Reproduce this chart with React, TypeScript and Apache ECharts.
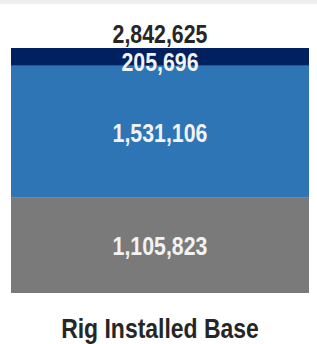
import React, { useEffect, useRef } from "react";
import * as echarts from "echarts";

const categories = ["Rig Installed Base"];
const seriesNames = ["Base", "Middle", "Top"];
const baseValues = [1105823];
const middleValues = [1531106];
const topValues = [205696];
const totalValues = [2842625];

const FONT = "'Liberation Sans', Arial, sans-serif";
const NARROW = 0.82;

export default function App() {
  const ref = useRef<HTMLDivElement>(null);
  useEffect(() => {
    document.body.style.margin = "0";
    const chart = echarts.init(ref.current!, null, { renderer: "svg" });
    const fmt = (v: number) => Number(v).toLocaleString("en-US");

    // label items: [categoryIndex, start, end, value, kind]
    const segs = [baseValues, middleValues, topValues];
    const labelData: any[] = [];
    categories.forEach((_, ci) => {
      let acc = 0;
      segs.forEach((arr, si) => {
        const v = arr[ci];
        labelData.push([ci, acc, acc + v, v, si]);
        acc += v;
      });
      labelData.push([ci, totalValues[ci], totalValues[ci], totalValues[ci], 3]);
      labelData.push([ci, 0, 0, 0, 4]);
    });
    const dy = [0, 1, 5, -14.5, 35];

    chart.setOption({
      animation: false,
      backgroundColor: "#ffffff",
      graphic: [
        { type: "rect", left: 0, top: 0, shape: { width: 317, height: 4 }, style: { fill: "#efefef" } },
      ],
      grid: { left: 11, right: 8, top: 48, bottom: 51 },
      xAxis: {
        type: "category",
        data: categories,
        axisLine: { show: false },
        axisTick: { show: false },
        axisLabel: { show: false },
      },
      yAxis: {
        type: "value",
        min: 0,
        max: totalValues[0],
        show: false,
        splitLine: { show: false },
      },
      series: [
        {
          name: seriesNames[0],
          type: "bar",
          stack: "s",
          barWidth: "100%",
          data: baseValues,
          itemStyle: { color: "#7a7a7a" },
        },
        {
          name: seriesNames[1],
          type: "bar",
          stack: "s",
          barWidth: "100%",
          data: middleValues,
          itemStyle: { color: "#2e75b6" },
        },
        {
          name: seriesNames[2],
          type: "bar",
          stack: "s",
          barWidth: "100%",
          data: topValues,
          itemStyle: { color: "#002060" },
        },
        {
          name: "Labels",
          type: "custom",
          clip: false,
          z: 10,
          data: labelData,
          renderItem: (params: any, api: any) => {
            const ci = api.value(0);
            const s = api.value(1);
            const e = api.value(2);
            const v = api.value(3);
            const kind = api.value(4);
            const p = api.coord([ci, (s + e) / 2]);
            const isCat = kind === 4;
            const text = isCat ? categories[ci] : fmt(v);
            const dark = kind >= 3;
            return {
              type: "text",
              x: p[0],
              y: p[1] + dy[kind],
              scaleX: NARROW,
              style: {
                text,
                fontFamily: FONT,
                fontWeight: "bold",
                fontSize: isCat ? 28 : 26,
                fill: dark ? "#262626" : "#f2f2f2",
                align: "center",
                verticalAlign: "middle",
              },
            };
          },
        },
      ],
    });
    return () => chart.dispose();
  }, []);
  return <div ref={ref} style={{ width: 317, height: 344 }} />;
}
